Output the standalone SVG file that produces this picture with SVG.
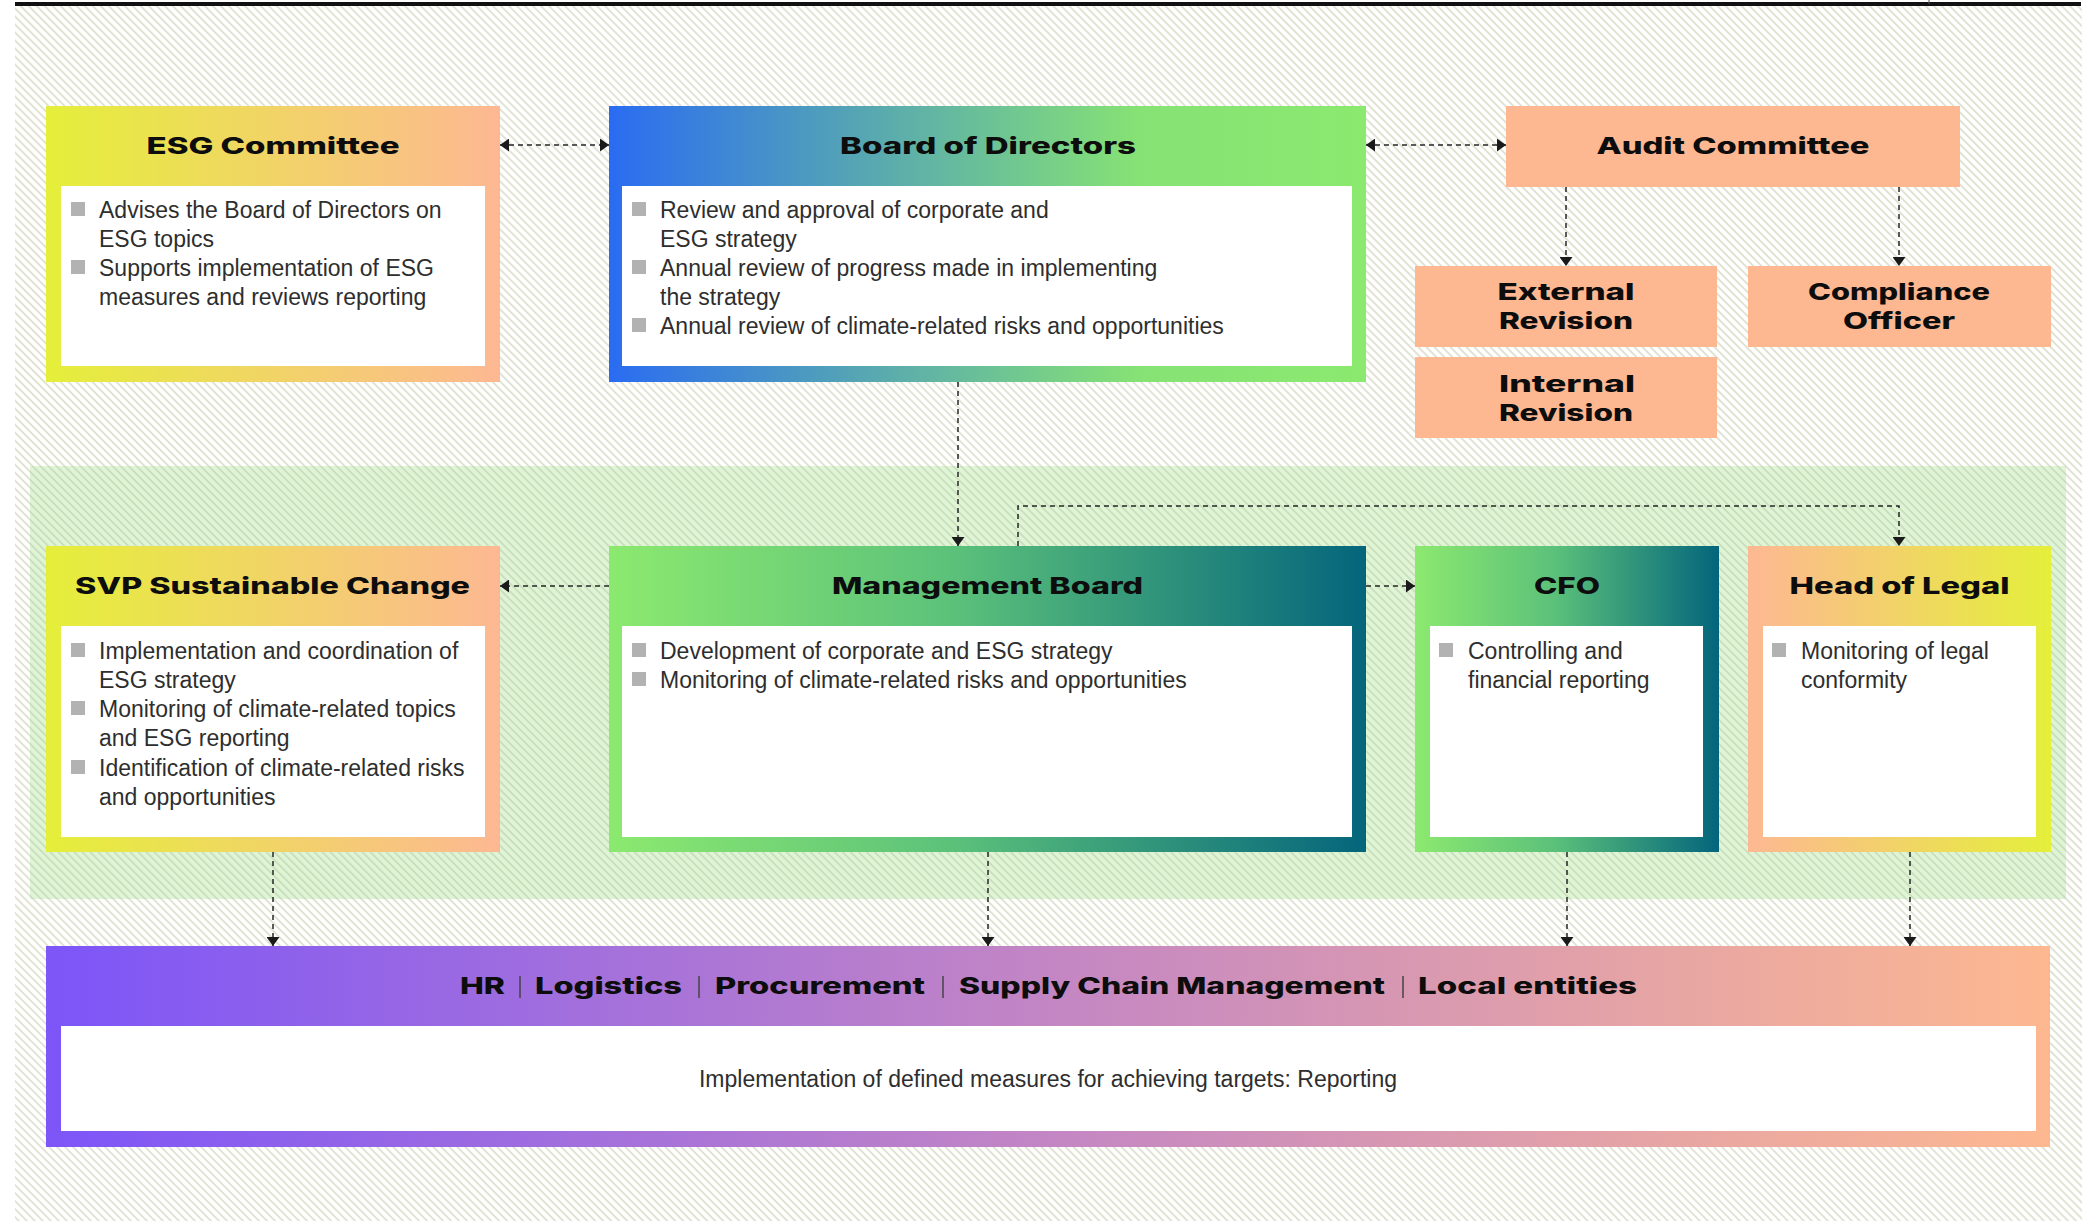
<svg xmlns="http://www.w3.org/2000/svg" width="2090" height="1221" viewBox="0 0 2090 1221">
  <defs>
    <style>
      .ttl { font-family: Inter, "Liberation Sans", sans-serif; font-weight: 800; font-size: 23px; fill: #0d0d0d; text-anchor: middle; }
      .ttl2 { font-family: Inter, "Liberation Sans", sans-serif; font-weight: 800; font-size: 23px; fill: #0d0d0d; }
      .bd { font-family: "Liberation Sans", Arial, sans-serif; font-size: 23px; fill: #2e2e2e; }
      .bul { fill: #b2b2b2; }
      .inner { fill: #ffffff; }
      .peach { fill: #fdb892; }
      .sep { stroke: #444; stroke-width: 1.5; }
      .conn { fill: none; stroke: #262626; stroke-width: 1.5; stroke-dasharray: 5 4; }
    </style>
    <pattern id="hatch" width="5.66" height="5.66" patternUnits="userSpaceOnUse" patternTransform="rotate(45)">
      <rect width="5.66" height="5.66" fill="#ffffff"/>
      <rect x="0" y="0" width="5.66" height="1.9" fill="#e0e2d2"/>
    </pattern>
    <pattern id="hatchGreen" width="5.66" height="5.66" patternUnits="userSpaceOnUse" patternTransform="rotate(45)">
      <rect width="5.66" height="5.66" fill="#dff5d6"/>
      <rect x="0" y="0" width="5.66" height="1.9" fill="#c9dfbd"/>
    </pattern>
    <linearGradient id="gWarm" x1="0" y1="0" x2="1" y2="0">
      <stop offset="0" stop-color="#e5ef3a"/>
      <stop offset="1" stop-color="#fdb893"/>
    </linearGradient>
    <linearGradient id="gWarmRev" x1="0" y1="0" x2="1" y2="0">
      <stop offset="0" stop-color="#fdb893"/>
      <stop offset="1" stop-color="#e5ef3a"/>
    </linearGradient>
    <linearGradient id="gBlueGreen" x1="0" y1="0" x2="1" y2="0">
      <stop offset="0" stop-color="#2a6cf2"/>
      <stop offset="0.35" stop-color="#58a9b0"/>
      <stop offset="0.7" stop-color="#86e274"/>
      <stop offset="1" stop-color="#8ce96f"/>
    </linearGradient>
    <linearGradient id="gGreenTeal" x1="0" y1="0" x2="1" y2="0">
      <stop offset="0" stop-color="#8ce96f"/>
      <stop offset="0.45" stop-color="#5cc27a"/>
      <stop offset="1" stop-color="#04657c"/>
    </linearGradient>
    <linearGradient id="gPurple" x1="0" y1="0" x2="1" y2="0">
      <stop offset="0" stop-color="#7d55f8"/>
      <stop offset="0.5" stop-color="#c386c4"/>
      <stop offset="1" stop-color="#fdb890"/>
    </linearGradient>
    <marker id="arr" viewBox="0 0 9 13" refX="9" refY="6.5" markerWidth="9" markerHeight="13" markerUnits="userSpaceOnUse" orient="auto-start-reverse">
      <path d="M0,0 L9,6.5 L0,13 z" fill="#1a1a1a"/>
    </marker>
  </defs>

  <!-- page background -->
  <rect x="0" y="0" width="2090" height="1221" fill="#ffffff"/>
  <rect x="15" y="6" width="2067" height="1215" fill="url(#hatch)"/>
  <rect x="15" y="2" width="2066" height="4" fill="#111"/>
  <line x1="1929" y1="0" x2="1929" y2="4" stroke="#555" stroke-width="1"/>

  <!-- executive band -->
  <rect x="30" y="466" width="2036" height="433" fill="url(#hatchGreen)"/>

  <!-- connectors -->
  <g id="connectors">
    <path class="conn" d="M500,145 H609" marker-start="url(#arr)" marker-end="url(#arr)"/>
    <path class="conn" d="M1366,145 H1506" marker-start="url(#arr)" marker-end="url(#arr)"/>
    <path class="conn" d="M1566,187 V266" marker-end="url(#arr)"/>
    <path class="conn" d="M1899,187 V266" marker-end="url(#arr)"/>
    <path class="conn" d="M958,382 V546" marker-end="url(#arr)"/>
    <path class="conn" d="M609,586 H500" marker-end="url(#arr)"/>
    <path class="conn" d="M1366,586 H1415" marker-end="url(#arr)"/>
    <path class="conn" d="M1018,546 V506 H1899 V546" marker-end="url(#arr)"/>
    <path class="conn" d="M273,852 V946" marker-end="url(#arr)"/>
    <path class="conn" d="M988,852 V946" marker-end="url(#arr)"/>
    <path class="conn" d="M1567,852 V946" marker-end="url(#arr)"/>
    <path class="conn" d="M1910,852 V946" marker-end="url(#arr)"/>
  </g>

  <!-- ESG Committee -->
  <g id="esg-committee">
    <rect x="46" y="106" width="454" height="276" fill="url(#gWarm)"/>
    <rect class="inner" x="61" y="186" width="424" height="180"/>
    <text class="ttl" x="273" y="154" textLength="253" lengthAdjust="spacingAndGlyphs">ESG Committee</text>
    <rect class="bul" x="71" y="202" width="14" height="14"/>
    <text class="bd" x="99" y="218">Advises the Board of Directors on</text>
    <text class="bd" x="99" y="247">ESG topics</text>
    <rect class="bul" x="71" y="260" width="14" height="14"/>
    <text class="bd" x="99" y="276">Supports implementation of ESG</text>
    <text class="bd" x="99" y="305">measures and reviews reporting</text>
  </g>

  <!-- Board of Directors -->
  <g id="board-of-directors">
    <rect x="609" y="106" width="757" height="276" fill="url(#gBlueGreen)"/>
    <rect class="inner" x="622" y="186" width="730" height="180"/>
    <text class="ttl" x="988" y="154" textLength="296" lengthAdjust="spacingAndGlyphs">Board of Directors</text>
    <rect class="bul" x="632" y="202" width="14" height="14"/>
    <text class="bd" x="660" y="218">Review and approval of corporate and</text>
    <text class="bd" x="660" y="247">ESG strategy</text>
    <rect class="bul" x="632" y="260" width="14" height="14"/>
    <text class="bd" x="660" y="276">Annual review of progress made in implementing</text>
    <text class="bd" x="660" y="305">the strategy</text>
    <rect class="bul" x="632" y="318" width="14" height="14"/>
    <text class="bd" x="660" y="334">Annual review of climate-related risks and opportunities</text>
  </g>

  <!-- Audit Committee -->
  <g id="audit-committee">
    <rect class="peach" x="1506" y="106" width="454" height="81"/>
    <text class="ttl" x="1733" y="154" textLength="273" lengthAdjust="spacingAndGlyphs">Audit Committee</text>
  </g>

  <!-- External Revision -->
  <g id="external-revision">
    <rect class="peach" x="1415" y="266" width="302" height="81"/>
    <text class="ttl" x="1566" y="300" textLength="137" lengthAdjust="spacingAndGlyphs">External</text>
    <text class="ttl" x="1566" y="329" textLength="134" lengthAdjust="spacingAndGlyphs">Revision</text>
  </g>

  <!-- Compliance Officer -->
  <g id="compliance-officer">
    <rect class="peach" x="1748" y="266" width="303" height="81"/>
    <text class="ttl" x="1899" y="300" textLength="182" lengthAdjust="spacingAndGlyphs">Compliance</text>
    <text class="ttl" x="1899" y="329" textLength="112" lengthAdjust="spacingAndGlyphs">Officer</text>
  </g>

  <!-- Internal Revision -->
  <g id="internal-revision">
    <rect class="peach" x="1415" y="357" width="302" height="81"/>
    <text class="ttl" x="1567" y="392" textLength="136" lengthAdjust="spacingAndGlyphs">Internal</text>
    <text class="ttl" x="1566" y="421" textLength="134" lengthAdjust="spacingAndGlyphs">Revision</text>
  </g>

  <!-- SVP Sustainable Change -->
  <g id="svp-sustainable-change">
    <rect x="46" y="546" width="454" height="306" fill="url(#gWarm)"/>
    <rect class="inner" x="61" y="626" width="424" height="211"/>
    <text class="ttl" x="272.5" y="594" textLength="395" lengthAdjust="spacingAndGlyphs">SVP Sustainable Change</text>
    <rect class="bul" x="71" y="643" width="14" height="14"/>
    <text class="bd" x="99" y="659">Implementation and coordination of</text>
    <text class="bd" x="99" y="688">ESG strategy</text>
    <rect class="bul" x="71" y="701" width="14" height="14"/>
    <text class="bd" x="99" y="717">Monitoring of climate-related topics</text>
    <text class="bd" x="99" y="746">and ESG reporting</text>
    <rect class="bul" x="71" y="760" width="14" height="14"/>
    <text class="bd" x="99" y="776">Identification of climate-related risks</text>
    <text class="bd" x="99" y="805">and opportunities</text>
  </g>

  <!-- Management Board -->
  <g id="management-board">
    <rect x="609" y="546" width="757" height="306" fill="url(#gGreenTeal)"/>
    <rect class="inner" x="622" y="626" width="730" height="211"/>
    <text class="ttl" x="987.5" y="594" textLength="311" lengthAdjust="spacingAndGlyphs">Management Board</text>
    <rect class="bul" x="632" y="643" width="14" height="14"/>
    <text class="bd" x="660" y="659">Development of corporate and ESG strategy</text>
    <rect class="bul" x="632" y="672" width="14" height="14"/>
    <text class="bd" x="660" y="688">Monitoring of climate-related risks and opportunities</text>
  </g>

  <!-- CFO -->
  <g id="cfo">
    <rect x="1415" y="546" width="304" height="306" fill="url(#gGreenTeal)"/>
    <rect class="inner" x="1430" y="626" width="273" height="211"/>
    <text class="ttl" x="1567" y="594" textLength="66" lengthAdjust="spacingAndGlyphs">CFO</text>
    <rect class="bul" x="1439" y="643" width="14" height="14"/>
    <text class="bd" x="1468" y="659">Controlling and</text>
    <text class="bd" x="1468" y="688">financial reporting</text>
  </g>

  <!-- Head of Legal -->
  <g id="head-of-legal">
    <rect x="1748" y="546" width="303" height="306" fill="url(#gWarmRev)"/>
    <rect class="inner" x="1763" y="626" width="273" height="211"/>
    <text class="ttl" x="1899.5" y="594" textLength="220" lengthAdjust="spacingAndGlyphs">Head of Legal</text>
    <rect class="bul" x="1772" y="643" width="14" height="14"/>
    <text class="bd" x="1801" y="659">Monitoring of legal</text>
    <text class="bd" x="1801" y="688">conformity</text>
  </g>

  <!-- Operational units -->
  <g id="operational-units">
    <rect x="46" y="946" width="2004" height="201" fill="url(#gPurple)"/>
    <rect class="inner" x="61" y="1026" width="1975" height="105"/>
    <text class="ttl2" x="460" y="994" textLength="45" lengthAdjust="spacingAndGlyphs">HR</text>
    <line class="sep" x1="520" y1="976" x2="520" y2="998"/>
    <text class="ttl2" x="535" y="994" textLength="147" lengthAdjust="spacingAndGlyphs">Logistics</text>
    <line class="sep" x1="699" y1="976" x2="699" y2="998"/>
    <text class="ttl2" x="715" y="994" textLength="210" lengthAdjust="spacingAndGlyphs">Procurement</text>
    <line class="sep" x1="943" y1="976" x2="943" y2="998"/>
    <text class="ttl2" x="959" y="994" textLength="426" lengthAdjust="spacingAndGlyphs">Supply Chain Management</text>
    <line class="sep" x1="1403" y1="976" x2="1403" y2="998"/>
    <text class="ttl2" x="1418" y="994" textLength="219" lengthAdjust="spacingAndGlyphs">Local entities</text>
    <text class="bd" x="1048" y="1087" text-anchor="middle">Implementation of defined measures for achieving targets: Reporting</text>
  </g>
</svg>
